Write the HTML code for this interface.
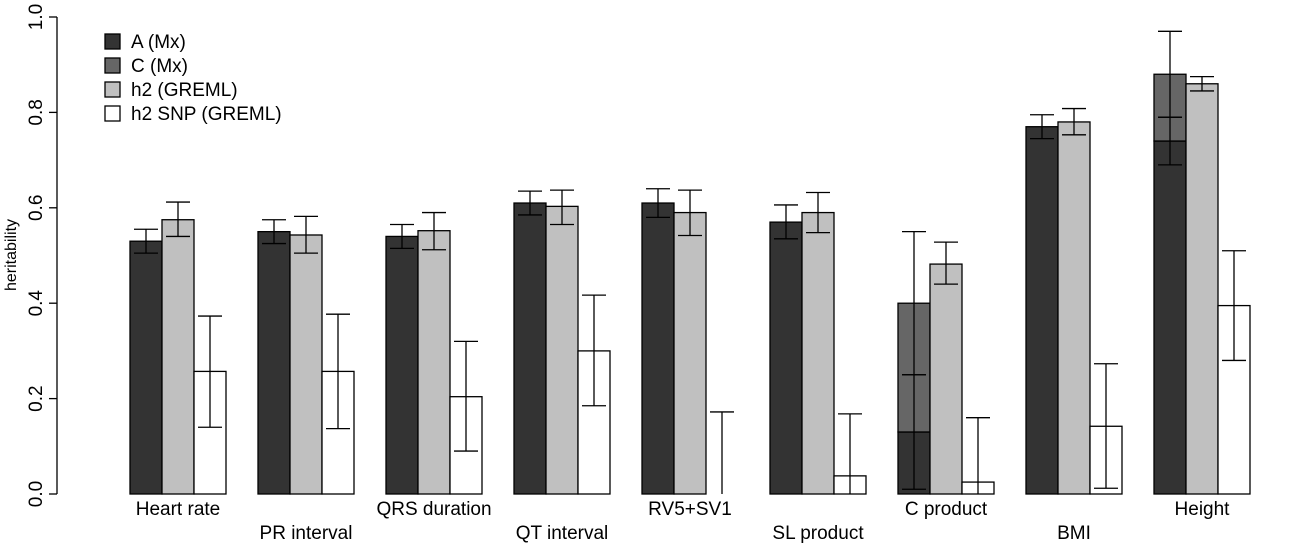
<!DOCTYPE html>
<html><head><meta charset="utf-8"><style>
body{margin:0;background:#fff}
svg{display:block;font-family:"Liberation Sans",sans-serif}
</style></head><body>
<svg id="chart" width="1300" height="544"></svg>
<script>
const categories=["Heart rate","PR interval","QRS duration","QT interval","RV5+SV1","SL product","C product","BMI","Height"];
const aVals=[0.53,0.55,0.54,0.61,0.61,0.57,0.13,0.77,0.74];
const aLo=[0.505,0.525,0.515,0.585,0.58,0.535,0.01,0.745,0.69];
const aHi=[0.555,0.575,0.565,0.635,0.64,0.606,0.25,0.795,0.79];
const cVals=[0,0,0,0,0,0,0.27,0,0.14];
const cLo=[null,null,null,null,null,null,0.25,null,0.79];
const cHi=[null,null,null,null,null,null,0.55,null,0.97];
const h2Vals=[0.575,0.543,0.552,0.603,0.59,0.59,0.482,0.78,0.86];
const h2Lo=[0.54,0.505,0.512,0.565,0.542,0.548,0.44,0.753,0.845];
const h2Hi=[0.612,0.582,0.59,0.637,0.637,0.632,0.528,0.808,0.875];
const snpVals=[0.257,0.257,0.204,0.30,0,0.038,0.025,0.142,0.395];
const snpLo=[0.14,0.137,0.09,0.185,0,0,0,0.012,0.28];
const snpHi=[0.373,0.377,0.32,0.417,0.172,0.168,0.16,0.273,0.51];
const yTicks=[0,0.2,0.4,0.6,0.8,1.0];
const legendLabels=["A (Mx)","C (Mx)","h2 (GREML)","h2 SNP (GREML)"];
const legendColors=["#333333","#666666","#c0c0c0","#ffffff"];

const svg=document.getElementById('chart');
const NS="http://www.w3.org/2000/svg";
const y=v=>494-v*477;
const barX=(g,k)=>130+g*128+k*32;
const BW=32;
const FS=19;
function mk(t,a,parent){const e=document.createElementNS(NS,t);for(const k in a)e.setAttribute(k,a[k]);(parent||svg).appendChild(e);return e;}
function rect(x,v0,v1,fill,name){
  const r=mk('rect',{x:x,y:y(v1),width:BW,height:Math.max(0,y(v0)-y(v1)),fill:fill,stroke:'#000','stroke-width':1.3});
  
  
}
function err(cx,lo,hi,name){
  const g=mk('g',{stroke:'#000','stroke-width':1.3});
  
  
  mk('line',{x1:cx,x2:cx,y1:y(lo),y2:y(hi)},g);
  if(lo>0) mk('line',{x1:cx-12,x2:cx+12,y1:y(lo),y2:y(lo)},g);
  mk('line',{x1:cx-12,x2:cx+12,y1:y(hi),y2:y(hi)},g);
}
const ax=mk('line',{x1:57,x2:57,y1:y(0),y2:y(1),stroke:'#000','stroke-width':1.3});


yTicks.forEach(t=>{
  const l=mk('line',{x1:49,x2:57,y1:y(t),y2:y(t),stroke:'#000','stroke-width':1.3});
  
  
  const tx=mk('text',{x:42,y:y(t),'font-size':FS,'text-anchor':'middle',transform:`rotate(-90 42 ${y(t)})`});
  tx.textContent=t.toFixed(1);
  
  
});
const yt=mk('text',{x:16,y:255,'font-size':16,'text-anchor':'middle',transform:'rotate(-90 16 255)'});
yt.textContent='heritability';



categories.forEach((c,g)=>{
  rect(barX(g,0),0,aVals[g],'#333333','bar-a');
  if(cVals[g]>0) rect(barX(g,0),aVals[g],aVals[g]+cVals[g],'#666666','bar-c');
  rect(barX(g,1),0,h2Vals[g],'#c0c0c0','bar-h2');
  if(snpVals[g]>0) rect(barX(g,2),0,snpVals[g],'#ffffff','bar-snp');
  err(barX(g,0)+16,aLo[g],aHi[g],'error-bar-a');
  if(cLo[g]!==null) err(barX(g,0)+16,cLo[g],cHi[g],'error-bar-c');
  err(barX(g,1)+16,h2Lo[g],h2Hi[g],'error-bar-h2');
  err(barX(g,2)+16,snpLo[g],snpHi[g],'error-bar-snp');
  const t=mk('text',{x:barX(g,1)+16,y:g%2?539:515,'font-size':FS,'text-anchor':'middle'});
  t.textContent=c;
  
  
});
legendLabels.forEach((l,i)=>{
  const r=mk('rect',{x:105,y:34+i*24,width:15,height:15,fill:legendColors[i],stroke:'#000','stroke-width':1.3});
  
  
  const t=mk('text',{x:131,y:48+i*24,'font-size':FS});
  t.textContent=l;
  
  
});
</script>
</body></html>
